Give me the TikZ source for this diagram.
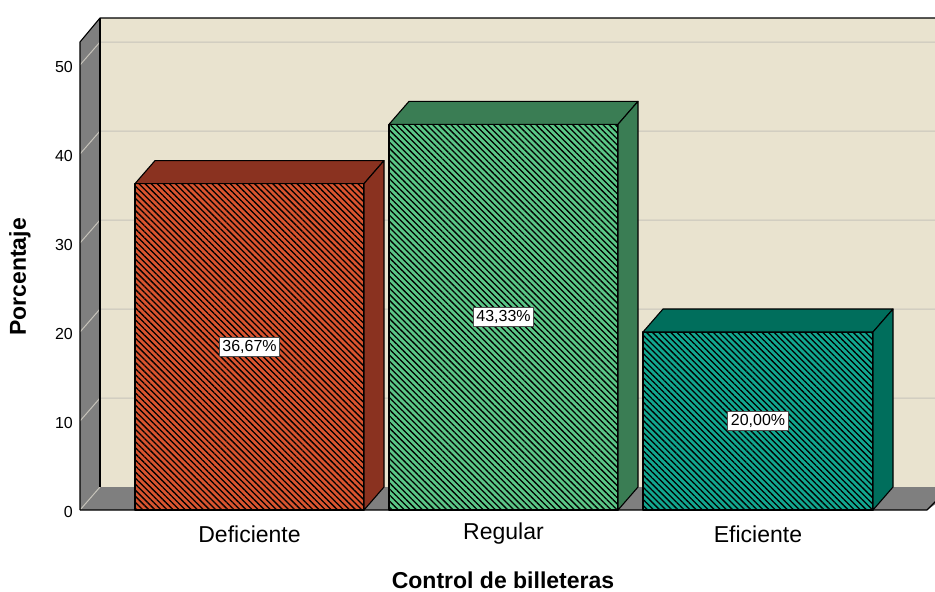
\documentclass[tikz,border=0pt]{standalone}
\usepackage{fontspec}
\setmainfont{Liberation Sans}
\usetikzlibrary{patterns.meta}

\definecolor{wallbeige}{HTML}{E9E3CF}
\definecolor{wallgray}{HTML}{7F7F7F}
\definecolor{gridgray}{HTML}{C6C3BA}
\definecolor{defFront}{HTML}{D9542F}
\definecolor{defTop}{HTML}{8A3220}
\definecolor{regFront}{HTML}{5BC787}
\definecolor{regTop}{HTML}{3A7D54}
\definecolor{efiFront}{HTML}{12A78F}
\definecolor{efiTop}{HTML}{006E5C}

\tikzset{
  edge/.style={draw=black, line width=1.1pt, line join=round},
  hatch/.style={pattern={Lines[angle=-45, distance=4.3pt, line width=1.3pt]},
    pattern color=black},
  gridline/.style={gridgray, line width=1pt},
  ticklabel/.style={anchor=east, inner sep=0pt, font=\fontsize{16}{19}\selectfont},
  valuelabel/.style={draw=black!70, fill=white, line width=0.8pt, inner sep=3pt,
    font=\fontsize{16}{19}\selectfont},
  catlabel/.style={font=\fontsize{23}{27}\selectfont},
  axistitle/.style={inner sep=0pt, font=\bfseries\fontsize{23}{27}\selectfont}
}

% \databar{left}{right}{value}{front}{top}{name}{label}
\newcommand{\databar}[7]{
  \pgfmathsetmacro{\ytop}{510-8.9*#3}
  \fill[#4] (#1,\ytop) rectangle (#2,510);
  \draw[edge, hatch] (#1,\ytop) rectangle (#2,510);
  \draw[edge, fill=#5] (#1,\ytop) -- ++(20,-23) -- ({#2+20},{\ytop-23})
    -- (#2,\ytop) -- cycle;
  \draw[edge, fill=#5] (#2,\ytop) -- ++(20,-23) -- ({#2+20},487)
    -- (#2,510) -- cycle;
  \node[valuelabel] (#6) at ({(#1+#2)/2},{510-4.45*#3}) {#7};
}

\begin{document}
\begin{tikzpicture}[x=1pt, y=-1pt]

    \useasboundingbox (0,0) rectangle (935,592);
    \clip (0,0) rectangle (935,592);

    % walls and floor
    \fill[wallbeige] (100,18) rectangle (960,487);
    \fill[wallgray] (80,42) -- (100,18) -- (100,487) -- (80,510) -- cycle;
    \fill[wallgray] (80,510) -- (100,487) -- (960,487) -- (927,510) -- cycle;

    \draw[gridline] (80,510) -- (100,487);
    \foreach \v in {10,20,...,50}{
      \draw[gridline] (80,{510-8.9*\v}) -- (100,{487-8.9*\v}) -- (960,{487-8.9*\v});
    }

    \draw[edge] (80,510) -- (80,42) -- (100,18) -- (960,18);
    \draw[edge] (100,18) -- (100,487);
    \draw[edge] (80,510) -- (927,510) -- (950,487);

    \foreach \v in {0,10,...,50}{
      \node[ticklabel] (tick\v) at (73,{512-8.9*\v}) {\v};
    }

    % bars
    \databar{135}{364}{36.67}{defFront}{defTop}{valdef}{36,67\%}
    \databar{389}{618}{43.33}{regFront}{regTop}{valreg}{43,33\%}
    \databar{643}{873}{20}{efiFront}{efiTop}{valefi}{20,00\%}

    \node[catlabel] (catdef) at (249.5,534) {Deficiente};
    \node[catlabel] (catreg) at (503.5,534) {Regular};
    \node[catlabel] (catefi) at (758,534) {Eficiente};

    \node[axistitle] (xtitle) at (503,580) {Control de billeteras};
    \node[axistitle, rotate=90] (ytitle) at (20,277) {Porcentaje};

  \end{tikzpicture}
\end{document}
